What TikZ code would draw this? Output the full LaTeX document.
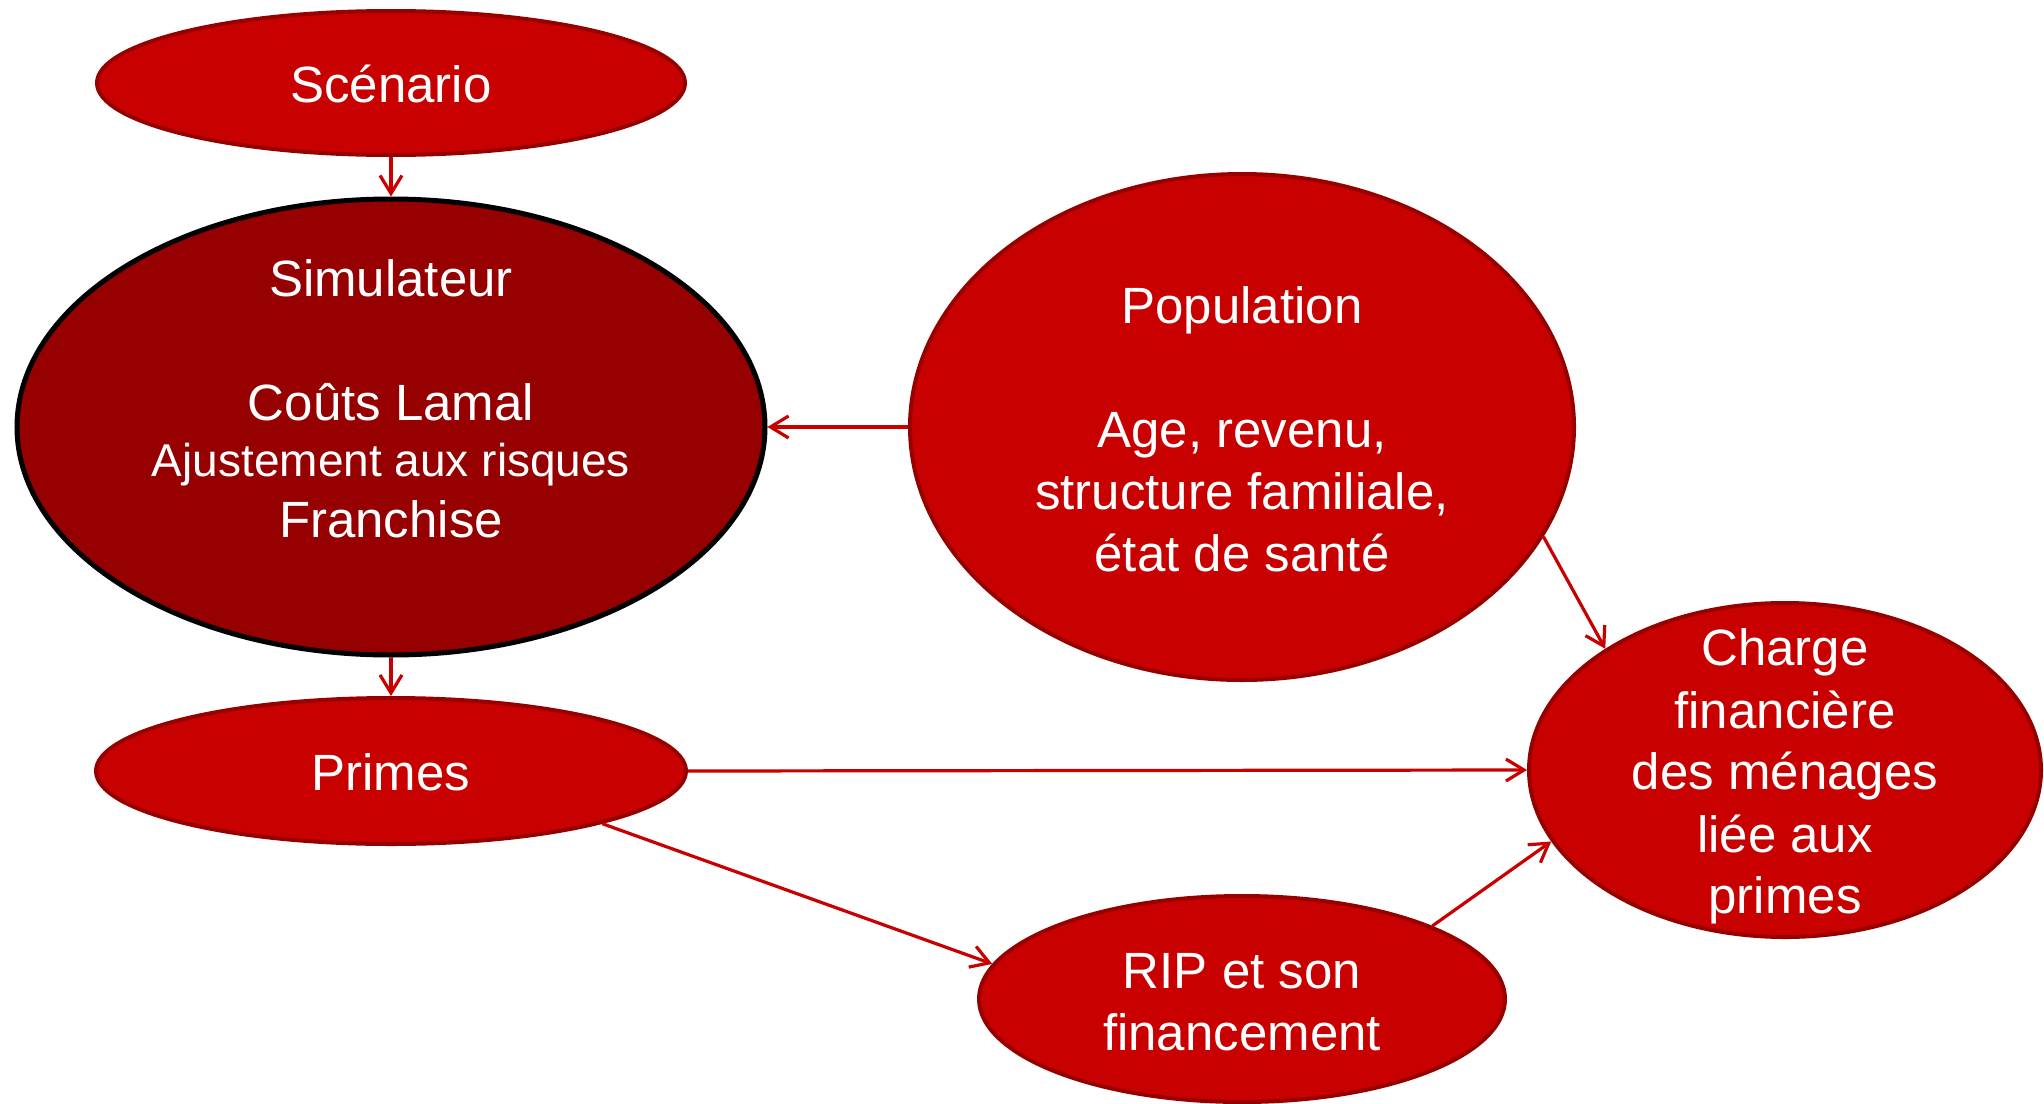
\documentclass[tikz,border=0pt]{standalone}
\usepackage{fontspec}
\setmainfont{Liberation Sans}
\usetikzlibrary{shapes.geometric,arrows.meta}
\definecolor{nodered}{HTML}{C80000}
\definecolor{edgered}{HTML}{980000}
\definecolor{simred}{HTML}{960000}
\definecolor{arrowred}{HTML}{C80000}
\begin{document}
\begin{tikzpicture}[x=0.5pt,y=-0.5pt,
  oval/.style={ellipse,draw=edgered,line width=2pt,fill=nodered,inner sep=0pt},
  simoval/.style={ellipse,draw=black,line width=2.5pt,fill=simred,inner sep=0pt},
  txt/.style={anchor=base,text=white,font=\fontsize{25.5}{31}\selectfont,inner sep=0pt},
  smalltxt/.style={txt,font=\fontsize{23}{28}\selectfont},
  link/.style={draw=arrowred,line width=1.6pt,-{Straight Barb[length=9pt,width=11pt]}}]
\useasboundingbox (0,0) rectangle (2044,1103);
% shapes
\node[oval,minimum width=294pt,minimum height=72pt] (scen) at (391,83) {};
\node[simoval,minimum width=374pt,minimum height=228pt] (sim) at (391,427) {};
\node[oval,minimum width=332pt,minimum height=253pt] (pop) at (1242,427) {};
\node[oval,minimum width=295pt,minimum height=73pt] (prim) at (391,771) {};
\node[oval,minimum width=256pt,minimum height=167pt] (charge) at (1785,770) {};
\node[oval,minimum width=263pt,minimum height=103pt] (rip) at (1242,999) {};
% texts
\node[txt] (scenT) at (391,102) {Scénario};
\node[txt] (simT1) at (391,296) {Simulateur};
\node[txt] (simT2) at (391,420) {Coûts Lamal};
\node[smalltxt] (simT3) at (391,476) {Ajustement aux risques};
\node[txt] (simT4) at (391,537) {Franchise};
\node[txt] (popT1) at (1242,323) {Population};
\node[txt] (popT2) at (1242,447) {Age, revenu,};
\node[txt] (popT3) at (1242,509) {structure familiale,};
\node[txt] (popT4) at (1242,571) {état de santé};
\node[txt] (primT) at (391,790) {Primes};
\node[txt] (chT1) at (1785,665) {Charge};
\node[txt] (chT2) at (1785,728) {financière};
\node[txt] (chT3) at (1785,789) {des ménages};
\node[txt] (chT4) at (1785,852) {liée aux};
\node[txt] (chT5) at (1785,913) {primes};
\node[txt] (ripT1) at (1242,988) {RIP et son};
\node[txt] (ripT2) at (1242,1050) {financement};
% connectors
\draw[link] (scen.south) -- (sim.north);
\draw[link] (sim.south) -- (prim.north);
\draw[link] (pop.west) -- (sim.east);
\draw[link] (prim.east) -- (charge.west);
\draw[link] (pop.-20) -- (charge.146);
\draw[link] (prim.-14) -- (rip.172);
\draw[link] (rip.21) -- (charge.-163);
\end{tikzpicture}
\end{document}
